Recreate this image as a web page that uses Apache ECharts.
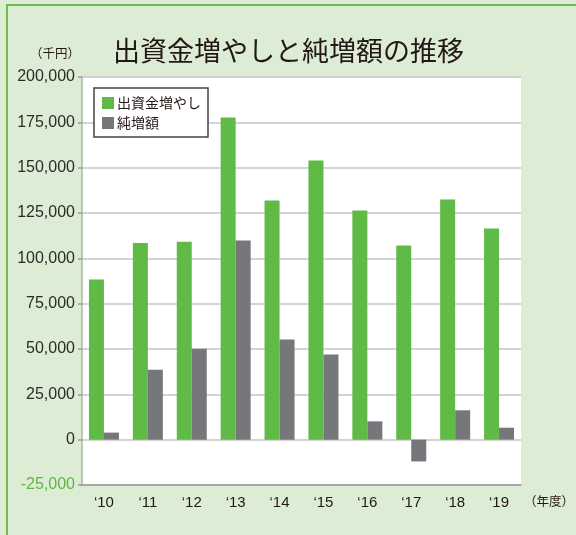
<!DOCTYPE html>
<html>
<head>
<meta charset="utf-8">
<script src="https://cdn.jsdelivr.net/npm/echarts@6/dist/echarts.min.js"></script>
<style>
  html, body { margin: 0; padding: 0; background: #ddecd4; }
  #main { width: 576px; height: 535px; }
</style>
</head>
<body>
<div id="main"></div>
<script>
// 年度ラベルと各系列の値（千円）
var years = ['\u201810', '\u201811', '\u201812', '\u201813', '\u201814', '\u201815', '\u201816', '\u201817', '\u201818', '\u201819'];
var zouka = [88300, 108500, 109100, 177700, 131900, 154000, 126400, 107100, 132400, 116400];
var junzou = [3900, 38600, 50200, 109800, 55200, 46900, 10100, -12000, 16200, 6600];
var seriesNames = ['出資金増やし', '純増額'];

var font = "'Liberation Sans', 'Noto Sans CJK JP', sans-serif";
var jpFont = "'Noto Sans CJK JP', sans-serif";
var myChart = echarts.init(document.getElementById('main'));
var option = {
  backgroundColor: '#ddecd4',
  animation: false,
  textStyle: { fontFamily: font },
  title: {
    text: '出資金増やしと純増額の推移',
    left: 113,
    top: 37,
    padding: 0,
    textStyle: {
      fontFamily: jpFont,
      fontSize: 27,
      fontWeight: 'normal',
      color: '#231815'
    }
  },
  legend: {
    orient: 'vertical',
    left: 94,
    top: 88,
    padding: [8, 7, 7, 8],
    itemGap: 6,
    itemWidth: 12,
    itemHeight: 12,
    icon: 'rect',
    backgroundColor: '#fff',
    borderColor: '#444',
    borderWidth: 1.5,
    textStyle: {
      fontFamily: jpFont,
      fontSize: 14,
      color: '#231815',
      padding: [0, 0, 0, -2]
    },
    data: seriesNames
  },
  grid: {
    show: true,
    backgroundColor: '#fff',
    borderWidth: 0,
    left: 82,
    right: 55,
    top: 77,
    bottom: 50
  },
  xAxis: {
    type: 'category',
    data: years,
    axisLine: { onZero: false, lineStyle: { color: '#9a9a9a', width: 1.5 } },
    axisTick: { length: 5, lineStyle: { color: '#9a9a9a', width: 1.5 } },
    axisLabel: { margin: 10, fontSize: 15, color: '#231815', fontFamily: font }
  },
  yAxis: {
    type: 'value',
    min: -25000,
    max: 200000,
    interval: 25000,
    axisLine: { show: true, lineStyle: { color: '#aab3a5', width: 1.5 } },
    axisTick: { show: true, length: 4, lineStyle: { color: '#9a9a9a', width: 1.5 } },
    axisLabel: {
      margin: 7,
      fontSize: 16,
      fontFamily: font,
      color: function (value) {
        return Number(value) < 0 ? '#5db744' : '#2b2b2b';
      },
      formatter: function (v) {
        return echarts.format.addCommas(v);
      }
    },
    splitLine: { lineStyle: { color: '#c6c6c6', width: 1.5 } }
  },
  graphic: [
    {
      type: 'text',
      left: 30,
      top: 47,
      style: { text: '（千円）', fontSize: 12.5, fill: '#231815', fontFamily: jpFont }
    },
    {
      type: 'text',
      left: 524,
      top: 495,
      style: { text: '（年度）', fontSize: 12.5, fill: '#231815', fontFamily: jpFont }
    },
    {
      type: 'line',
      shape: { x1: 6, y1: 5, x2: 576, y2: 5 },
      style: { stroke: '#6cbe4d', lineWidth: 2 }
    },
    {
      type: 'line',
      shape: { x1: 7, y1: 4, x2: 7, y2: 535 },
      style: { stroke: '#6cbe4d', lineWidth: 2 }
    }
  ],
  series: [
    {
      name: seriesNames[0],
      type: 'bar',
      barWidth: 15,
      barGap: '0%',
      itemStyle: { color: '#60ba46' },
      data: zouka
    },
    {
      name: seriesNames[1],
      type: 'bar',
      barWidth: 15,
      itemStyle: { color: '#76777b' },
      data: junzou
    }
  ]
};
myChart.setOption(option);
</script>
</body>
</html>
